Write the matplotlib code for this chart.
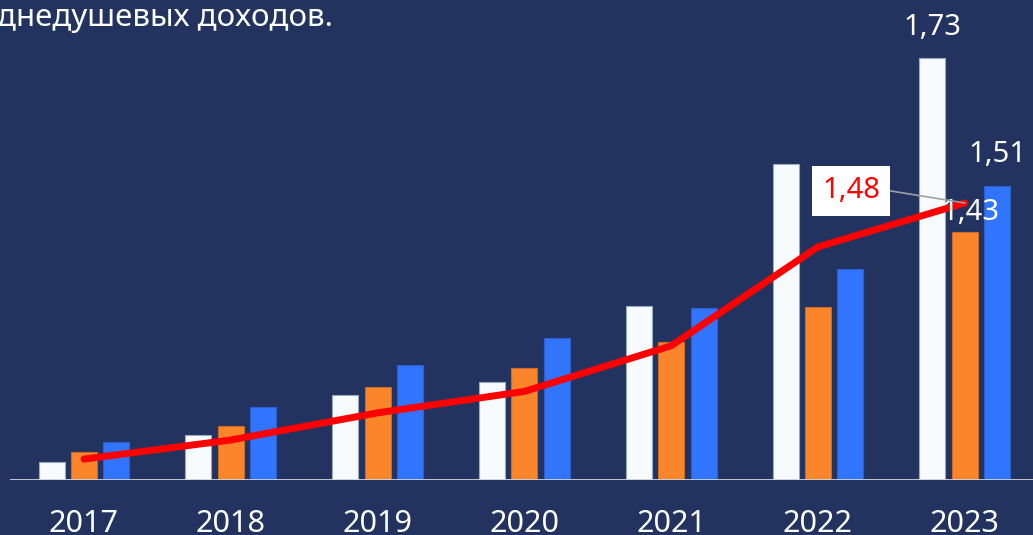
import matplotlib.pyplot as plt
import numpy as np

# данные (индексы, 2016 = 1)
years = ['2017', '2018', '2019', '2020', '2021', '2022', '2023']
white_vals = [1.032, 1.078, 1.147, 1.170, 1.301, 1.547, 1.73]
orange_vals = [1.049, 1.094, 1.161, 1.195, 1.239, 1.300, 1.43]
blue_vals = [1.067, 1.127, 1.199, 1.247, 1.298, 1.365, 1.51]
red_vals = [1.037, 1.070, 1.117, 1.154, 1.233, 1.404, 1.48]

bg = '#22335F'
plt.rcParams['font.family'] = ['Noto Sans', 'DejaVu Sans']

fig = plt.figure(figsize=(10.33, 5.35), dpi=100, facecolor=bg)
ax = fig.add_axes([10 / 1033, 0.1019, 1.0, 0.8981])
ax.set_facecolor(bg)

x = np.arange(len(years))
w = 0.177
off = 0.221
base = 1.0
px = 1 / 578  # один пиксель по вертикали в единицах данных

ax.bar(x - off, np.array(white_vals) - base, w, bottom=base, color='#F8FBFE',
       edgecolor='#9AA8C0', linewidth=0.8, zorder=2)
ax.bar(x, np.array(orange_vals) - base, w, bottom=base, color='#FB852B',
       edgecolor='#C96A25', linewidth=0.8, zorder=2)
ax.bar(x + off, np.array(blue_vals) - base, w, bottom=base, color='#3174FE',
       edgecolor='#2A5FCC', linewidth=0.8, zorder=2)

ax.plot(x, red_vals, color='#FF0000', linewidth=5, solid_capstyle='round',
        solid_joinstyle='round', zorder=4)

ax.axhline(base, color='#D0D3D8', linewidth=2, zorder=3)

ax.set_xlim(-0.504, 6.533)
ax.set_ylim(1.0, 1.831)
ax.axis('off')

# подписи лет
for i, yr in enumerate(years):
    ax.text(x[i], base - 44 * px, yr, ha='center', va='center',
            color='white', fontsize=22, fontweight='light', clip_on=False)

# подписи значений 2023
ax.text(x[6] - off, white_vals[6] + 31 * px, '1,73', ha='center', va='center',
        color='white', fontsize=21, fontweight='light', zorder=5)
ax.text(x[6] + off, blue_vals[6] + 31 * px, '1,51', ha='center', va='center',
        color='white', fontsize=21, fontweight='light', zorder=5)
ax.text(x[6] + 0.04, orange_vals[6] + 19 * px, '1,43', ha='center', va='center',
        color='white', fontsize=21, fontweight='light', zorder=5)

# выноска 1,48
lx, ly = 5.225, red_vals[6] + 12 * px
ax.plot([lx + 0.27, x[6]], [ly, red_vals[6]], color='#A0A0A0', linewidth=1.2, zorder=5)
ax.text(lx, ly, '1,48', ha='center', va='center', color='#FF0000', fontsize=21,
        fontweight='light', zorder=6,
        bbox=dict(boxstyle='square,pad=0.35', facecolor='white', edgecolor='none'))

fig.text(-3 / 1033, 1 - 18 / 535, 'днедушевых доходов.', ha='left', va='center',
         color='white', fontsize=22.5, fontweight='light')

plt.savefig('out.png', dpi=100, facecolor=bg)
